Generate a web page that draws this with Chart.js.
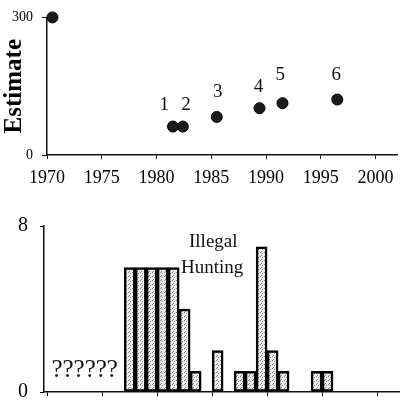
<!DOCTYPE html>
<html>
<head>
<meta charset="utf-8">
<script src="https://cdn.jsdelivr.net/npm/chart.js@4"></script>
<style>
html, body { margin: 0; padding: 0; background: #fff; }
#wrap { position: relative; width: 404px; height: 416px; }
.box { position: absolute; left: 0; width: 404px; }
</style>
</head>
<body>
<div id="wrap">
    <div class="box" style="top:0;height:200px"><canvas id="estChart"></canvas></div>
    <div class="box" style="top:200px;height:216px"><canvas id="huntChart"></canvas></div>
</div>
<script>
// top panel: population estimates
const surveyYears = [1970.5, 1981.5, 1982.4, 1985.5, 1989.4, 1991.5, 1996.5];
const estimates = [300, 62, 62, 83, 102, 113, 121];
const surveyLabels = ['1', '2', '3', '4', '5', '6'];
const labelYears = [1980.7, 1982.7, 1985.6, 1989.3, 1991.3, 1996.4];
const labelHeights = [108, 108, 138, 149, 174, 174];
const tickYears = [1970, 1975, 1980, 1985, 1990, 1995, 2000];

// bottom panel: poaching counts per year
const huntYears = [1977, 1978, 1979, 1980, 1981, 1982, 1983, 1985, 1987, 1988, 1989, 1990, 1991, 1994, 1995];
const huntCounts = [6, 6, 6, 6, 6, 4, 1, 2, 1, 1, 7, 2, 1, 1, 1];

const serif = "'Liberation Serif', 'DejaVu Serif', serif";

const textMarks = {
    id: 'textMarks',
    afterDatasetsDraw(chart, args, opts) {
        const {ctx, scales: {x, y}} = chart;
        ctx.save();
        ctx.fillStyle = '#111';
        ctx.textAlign = 'center';
        ctx.textBaseline = 'middle';
        opts.items.forEach(t => {
            ctx.font = t.font;
            ctx.fillText(t.text, x.getPixelForValue(t.x), y.getPixelForValue(t.y));
        });
        ctx.restore();
    }
};

function stipple(target) {
    const c = document.createElement('canvas');
    c.width = 4; c.height = 4;
    const g = c.getContext('2d');
    g.fillStyle = '#ececec';
    g.fillRect(0, 0, 4, 4);
    g.fillStyle = '#808080';
    g.fillRect(0, 0, 1, 1);
    g.fillRect(2, 1, 1, 1);
    g.fillRect(1, 3, 1, 1);
    return target.getContext('2d').createPattern(c, 'repeat');
}

const axisGrid = {drawOnChartArea: false, color: '#000', lineWidth: 1};
const axisBorder = {color: '#111', width: 1.5};

new Chart(document.getElementById('estChart'), {
    type: 'scatter',
    data: {
        datasets: [{
            data: surveyYears.map((yr, i) => ({x: yr, y: estimates[i]})),
            backgroundColor: '#1c1c1c',
            borderColor: '#000',
            borderWidth: 1,
            pointRadius: 5.5,
            clip: false
        }]
    },
    options: {
        responsive: true,
        maintainAspectRatio: false,
        animation: false,
        layout: {padding: {top: 14, right: 5}},
        plugins: {
            legend: {display: false},
            tooltip: {enabled: false},
            textMarks: {
                items: surveyLabels.map((t, i) => ({
                    text: t, x: labelYears[i], y: labelHeights[i], font: '19px ' + serif
                }))
            }
        },
        scales: {
            x: {
                type: 'linear',
                min: 1970,
                max: 2002,
                afterBuildTicks: s => { s.ticks = tickYears.map(v => ({value: v})); },
                afterFit: s => { s.height = 45; },
                grid: {...axisGrid, tickLength: 4},
                border: axisBorder,
                ticks: {padding: 8, color: '#000', font: {family: serif, size: 18}, callback: v => String(v)}
            },
            y: {
                min: 0,
                max: 300,
                afterBuildTicks: s => { s.ticks = [{value: 0}, {value: 300}]; },
                afterFit: s => { s.width = 47; },
                grid: {...axisGrid, tickLength: 5},
                border: axisBorder,
                ticks: {padding: 9, color: '#000', font: {family: serif, size: 14}},
                title: {
                    display: true,
                    text: 'Estimate',
                    color: '#000',
                    padding: {top: 0, bottom: 0},
                    font: {family: serif, size: 25, weight: 'bold'}
                }
            }
        }
    },
    plugins: [textMarks]
});

const huntCanvas = document.getElementById('huntChart');

new Chart(huntCanvas, {
    type: 'bar',
    data: {
        datasets: [{
            data: huntYears.map((yr, i) => ({x: yr + 0.5, y: huntCounts[i]})),
            backgroundColor: stipple(huntCanvas),
            borderColor: '#000',
            borderWidth: 2.5,
            borderSkipped: false,
            categoryPercentage: 1,
            barPercentage: 1
        }]
    },
    options: {
        responsive: true,
        maintainAspectRatio: false,
        animation: false,
        layout: {padding: {top: 26, right: 5}},
        plugins: {
            legend: {display: false},
            tooltip: {enabled: false},
            textMarks: {
                items: [
                    {text: '??????', x: 1973.4, y: 1.05, font: '25px ' + serif},
                    {text: 'Illegal', x: 1985.1, y: 7.24, font: '19px ' + serif},
                    {text: 'Hunting', x: 1985.0, y: 5.96, font: '19px ' + serif}
                ]
            }
        },
        scales: {
            x: {
                type: 'linear',
                min: 1969.7,
                max: 2002,
                offset: false,
                afterBuildTicks: s => { s.ticks = tickYears.map(v => ({value: v})); },
                afterFit: s => { s.height = 10; },
                grid: {...axisGrid, offset: false, tickLength: 4},
                border: axisBorder,
                ticks: {display: false}
            },
            y: {
                min: 0,
                max: 8,
                afterBuildTicks: s => { s.ticks = [{value: 0}, {value: 8}]; },
                afterFit: s => { s.width = 44; },
                grid: {...axisGrid, tickLength: 4},
                border: axisBorder,
                ticks: {padding: 12, color: '#000', font: {family: serif, size: 20}}
            }
        }
    },
    plugins: [textMarks]
});
</script>
</body>
</html>
